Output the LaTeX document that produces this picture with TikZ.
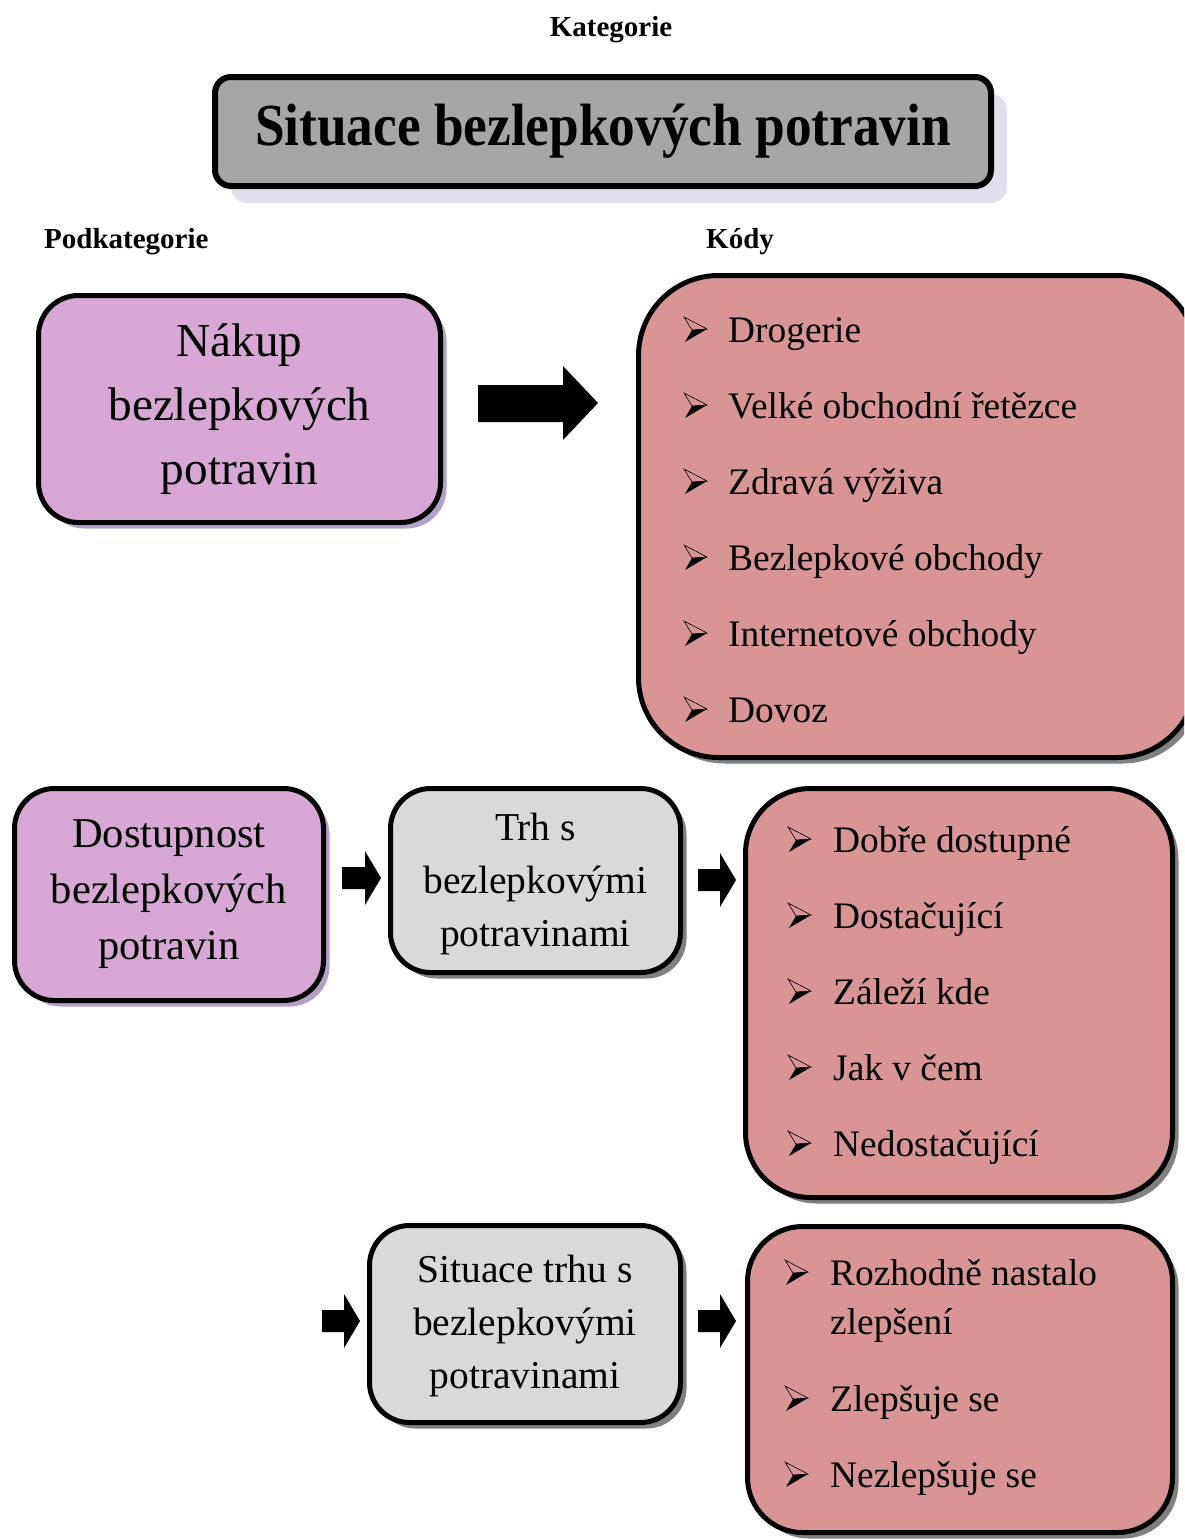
\documentclass[tikz,border=0pt]{standalone}
\usepackage{fontspec}
\usepackage{graphicx}
\setmainfont{Liberation Serif}
\usetikzlibrary{shadows}
\definecolor{titlegray}{HTML}{A6A6A6}
\definecolor{titleshadow}{HTML}{E4DFEC}
\definecolor{purp}{HTML}{D7A7D6}
\definecolor{purpshadow}{HTML}{B2A1C7}
\definecolor{codefill}{HTML}{D99594}
\definecolor{lgray}{HTML}{D9D9D9}
\definecolor{dshadow}{HTML}{808080}
\tikzset{
  box/.style={draw=black, line width=5pt, align=center, inner sep=0pt},
  tbox/.style={box, line width=6pt, rounded corners=16pt, fill=titlegray,
    drop shadow={shadow xshift=16pt, shadow yshift=-17pt, fill=titleshadow, opacity=1}},
  pbox/.style={box, rounded corners=40pt, fill=purp,
    drop shadow={shadow xshift=6pt, shadow yshift=-6pt, fill=purpshadow, opacity=1}},
  gbox/.style={box, rounded corners=40pt, fill=lgray,
    drop shadow={shadow xshift=6pt, shadow yshift=-6pt, fill=dshadow, opacity=1}},
  cbox/.style={box, fill=codefill,
    drop shadow={shadow xshift=6pt, shadow yshift=-6pt, fill=dshadow, opacity=1}},
  lbl/.style={inner sep=0pt, font=\fontsize{29}{34}\selectfont\bfseries},
  item/.style={inner sep=0pt, anchor=base west, font=\fontsize{37.4}{49}\selectfont, align=left},
  pics/bul/.style={code={
    \draw[line width=0.6pt, line join=miter] (0,-13) -- (23,-1) -- (8,0) -- cycle;
    \fill[black] (8,0) -- (23,-1) -- (1,12) -- cycle;
  }},
}
\begin{document}
\begin{tikzpicture}[x=1pt,y=-1pt]
\useasboundingbox (0,0) rectangle (1184,1539);
\clip (0,0) rectangle (1184,1539);

% labels
\node[lbl, anchor=base] (kat) at (611,36) {Kategorie};
\node[lbl, anchor=base west] (podkat) at (44,248) {Podkategorie};
\node[lbl, anchor=base west] (kody) at (706,248) {Kódy};

% title
\node[tbox, minimum width=776pt, minimum height=109pt] (title) at (603,131.5)
  {\fontsize{53.3}{60}\selectfont\bfseries\raisebox{-1pt}{\scalebox{1}[1.12]{Situace bezlepkových potravin}}};

% row 1
\node[pbox, minimum width=402pt, minimum height=227pt, font=\fontsize{47.2}{64}\selectfont] (nakup) at (239.5,409)
  {Nákup\\bezlepkových\\potravin};
\node[cbox, rounded corners=80pt, minimum width=558pt, minimum height=482pt] (kod1) at (917.5,516.5) {};
\fill (478,385) -- (563,385) -- (563,366) -- (598,403) -- (563,440) -- (563,422) -- (478,422) -- cycle;

\node[item] (k1a) at (728,342) {Drogerie};
\node[item] (k1b) at (728,418) {Velké obchodní řetězce};
\node[item] (k1c) at (728,494) {Zdravá výživa};
\node[item] (k1d) at (728,570) {Bezlepkové obchody};
\node[item] (k1e) at (728,646) {Internetové obchody};
\node[item] (k1f) at (728,722) {Dovoz};
\foreach \y in {342,418,494,570,646,722} \pic at (684,\y-12) {bul};

% row 2
\node[pbox, minimum width=309pt, minimum height=212pt, font=\fontsize{42.5}{56}\selectfont] (dost) at (169,894.5)
  {Dostupnost\\bezlepkových\\potravin};
\node[gbox, minimum width=290pt, minimum height=184pt] (trh) at (535.5,880.5) {};
\node[inner sep=0pt, align=center, font=\fontsize{39.5}{53}\selectfont] (trhtxt) at (535.5,884)
  {Trh s\\bezlepkovými\\potravinami};
\node[cbox, rounded corners=65pt, minimum width=427pt, minimum height=409pt] (kod2) at (959,993) {};
\fill (342,867) -- (365,867) -- (365,851) -- (381,878) -- (365,905) -- (365,889) -- (342,889) -- cycle;
\fill (698,869) -- (720,869) -- (720,853) -- (736,880) -- (720,907) -- (720,891) -- (698,891) -- cycle;

\node[item] (k2a) at (833,852) {Dobře dostupné};
\node[item] (k2b) at (833,928) {Dostačující};
\node[item] (k2c) at (833,1004) {Záleží kde};
\node[item] (k2d) at (833,1080) {Jak v čem};
\node[item] (k2e) at (833,1156) {Nedostačující};
\foreach \y in {852,928,1004,1080,1156} \pic at (788,\y-12) {bul};

% row 3
\node[gbox, minimum width=311pt, minimum height=197pt] (sit) at (525,1324) {};
\node[inner sep=0pt, align=center, font=\fontsize{39.5}{53}\selectfont] (sittxt) at (525,1326)
  {Situace trhu s\\bezlepkovými\\potravinami};
\node[cbox, rounded corners=55pt, minimum width=425pt, minimum height=306pt] (kod3) at (960,1379.5) {};
\fill (322,1310) -- (344,1310) -- (344,1294) -- (360,1321) -- (344,1348) -- (344,1332) -- (322,1332) -- cycle;
\fill (698,1310) -- (720,1310) -- (720,1294) -- (736,1321) -- (720,1348) -- (720,1332) -- (698,1332) -- cycle;

\node[item] (k3a) at (830,1334) {Rozhodně nastalo\\zlepšení};
\node[item] (k3b) at (830,1411) {Zlepšuje se};
\node[item] (k3c) at (830,1487) {Nezlepšuje se};
\foreach \y in {1285,1411,1487} \pic at (785,\y-12) {bul};
\end{tikzpicture}
\end{document}
